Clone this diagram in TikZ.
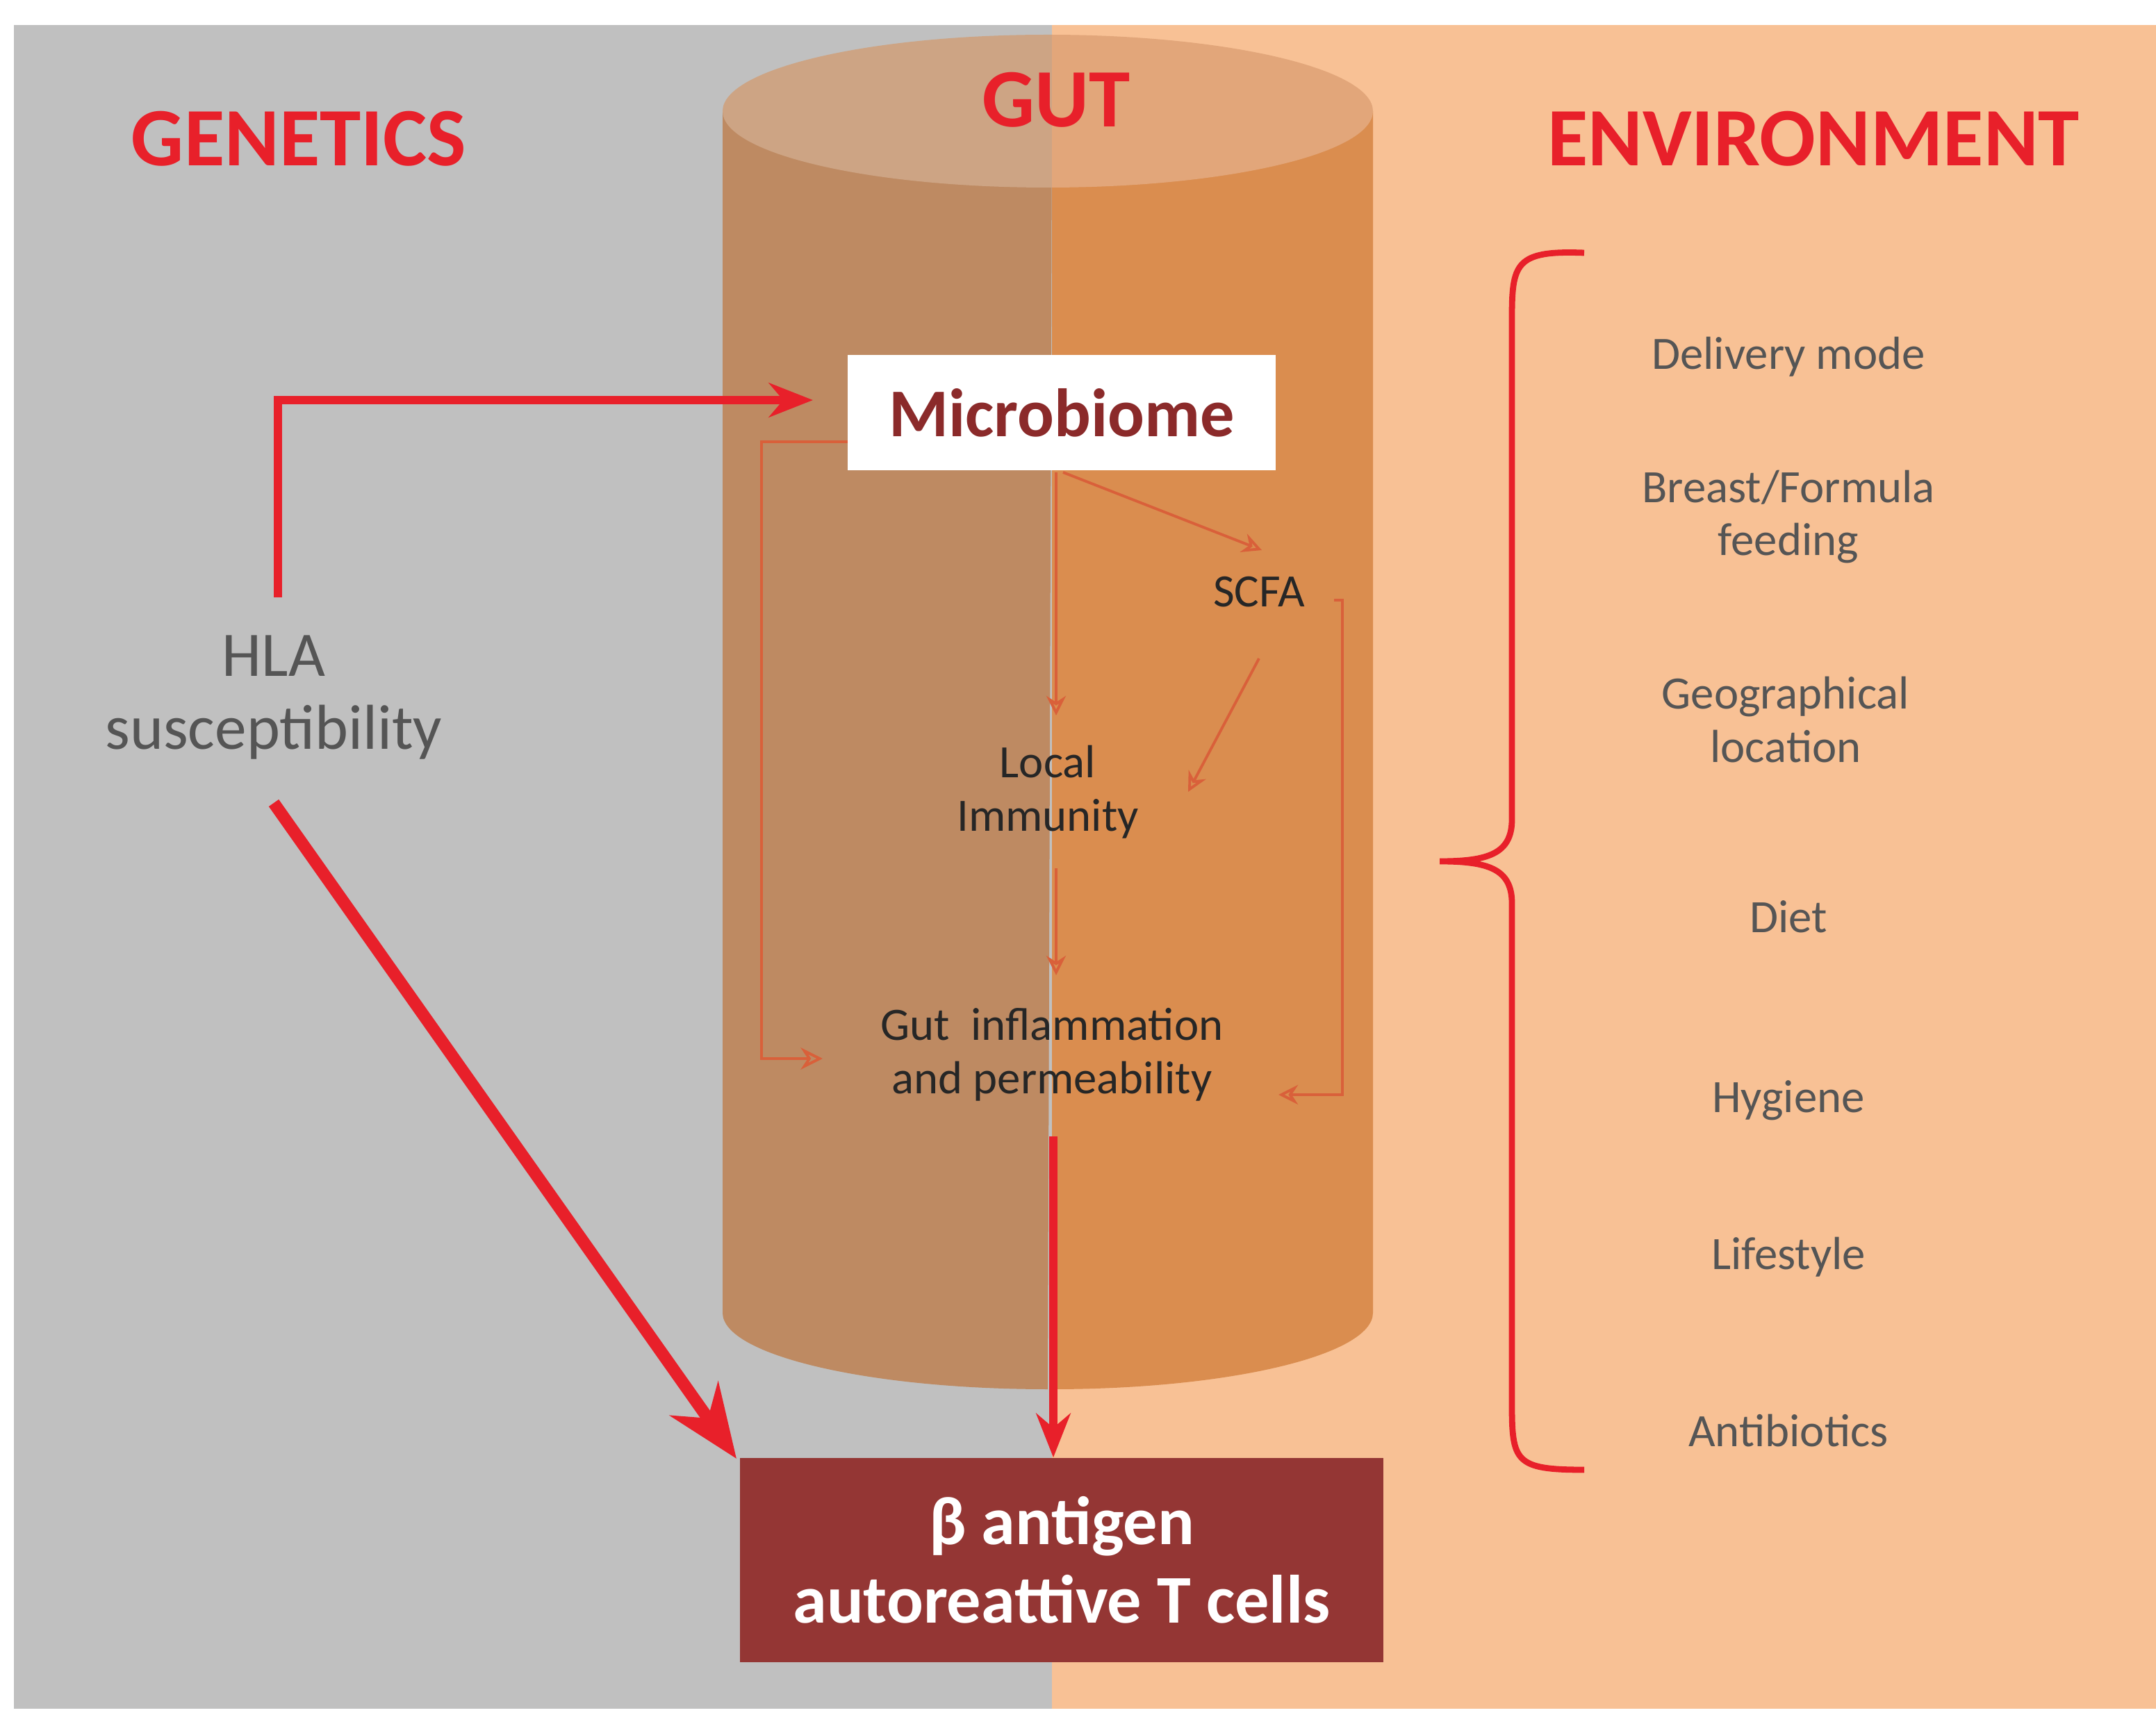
\documentclass[tikz,border=0pt]{standalone}
\usepackage{fontspec}
\setmainfont{Carlito}
\usetikzlibrary{arrows.meta,decorations.pathreplacing}
\definecolor{bggray}{HTML}{C0C0C0}
\definecolor{bgor}{HTML}{F8C195}
\definecolor{cylL}{HTML}{BE8A62}
\definecolor{cylR}{HTML}{DA8D4F}
\definecolor{topL}{HTML}{CDA484}
\definecolor{topR}{HTML}{E2A67A}
\definecolor{tred}{HTML}{E8202A}
\definecolor{thin}{HTML}{D9603A}
\definecolor{dred}{HTML}{943634}
\definecolor{mtxt}{HTML}{8B2A2A}
\definecolor{gtxt}{HTML}{555555}
\tikzset{
 fs/.style={font=\fontsize{#1}{#1}\linespread{1.15}\selectfont},
 fsb/.style={font=\fontsize{#1}{#1}\linespread{1.15}\selectfont\bfseries},
 env/.style={fs=19, text=gtxt, align=center},
 gut/.style={fs=19, text=black!85, align=center},
 thick red/.style={draw=tred, line width=3.2pt},
 thinln/.style={draw=thin, line width=1.1pt},
}
\begin{document}
\begin{tikzpicture}[x=0.02cm,y=-0.02cm]
\useasboundingbox (0,0) rectangle (1551.5,1234.5);
\fill[white] (0,0) rectangle (1551.5,1234.5);
\fill[bggray] (10,18) rectangle (757,1230);
\fill[bgor] (757,18) rectangle (1555,1230);
% cylinder
\fill[cylL] (520,80) -- (520,945) arc[start angle=180,end angle=90,x radius=234,y radius=55] -- (757,80) -- cycle;
\fill[cylR] (757,80) -- (757,1000) arc[start angle=90,end angle=0,x radius=231,y radius=55] -- (988,80) -- cycle;
\begin{scope}
\clip (0,0) rectangle (757,200);
\fill[topL] (754,80) ellipse[x radius=234,y radius=55];
\end{scope}
\begin{scope}
\clip (757,0) rectangle (1551,200);
\fill[topR] (754,80) ellipse[x radius=234,y radius=55];
\end{scope}
% titles
\node[fsb=34, text=tred] (gen) at (215,100) {GENETICS};
\node[fsb=34, text=tred] (gutt) at (760,72) {GUT};
\node[fsb=34, text=tred] (envt) at (1305,100) {ENVIRONMENT};
% nodes
\node[fill=white, fsb=28, text=mtxt, minimum width=308*0.02cm, minimum height=83*0.02cm] (mic) at (764,297) {Microbiome};
\node[fs=26, text=gtxt, align=center] (hla) at (197,502) {HLA\\susceptibility};
\node[gut] (scfa) at (906,426) {SCFA};
\node[gut] (loc) at (754,570) {Local\\Immunity};
\node[gut] (gi) at (757,759) {Gut\ \ inflammation\\and permeability};
\node[fill=dred, text=white, fsb=28, align=center, minimum width=463*0.02cm, minimum height=147*0.02cm] (tc) at (764,1123) {β antigen\\autoreattive T cells};
% environment
\node[env] (e1) at (1287,257) {Delivery mode};
\node[env] (e2) at (1287,372) {Breast/Formula\\feeding};
\node[env] (e3) at (1285,518) {Geographical\\location};
\node[env] (e4) at (1287,660) {Diet};
\node[env] (e5) at (1287,792) {Hygiene};
\node[env] (e6) at (1287,905) {Lifestyle};
\node[env] (e7) at (1287,1030) {Antibiotics};
% brace
\draw[tred, line width=2.5pt] (1140,182) .. controls (1090,180) and (1088,190) .. (1088,230) -- (1088,590) .. controls (1088,615) and (1070,620) .. (1036,620) .. controls (1070,620) and (1088,625) .. (1088,650) -- (1088,1010) .. controls (1088,1052) and (1090,1058) .. (1140,1058);
% thick arrows
\coordinate (hlat) at (200,430);
\coordinate (micl) at (585,288);
\draw[thick red, -{Stealth[length=18pt,width=14pt]}] (hlat) -- (200,288) -- (micl);
\coordinate (hlab) at (197,578);
\coordinate (tcl) at (530,1050);
\draw[tred, line width=5pt, -{Stealth[length=30pt,width=24pt]}] (hlab) -- (tcl);
\coordinate (gib) at (758,818);
\draw[thick red, -{Stealth[length=18pt,width=14pt]}] (gib) -- (gib |- tc.north);
% thin arrows
\coordinate (m1) at (610,318);
\coordinate (g1) at (592,762);
\draw[thinln, -{Stealth[length=9pt,width=9pt,open]}] (m1) -- (548,318) -- (548,762) -- (g1);
\draw[thinln, -{Stealth[length=8pt,width=8pt,open]}] (760,340) -- (760,515);
\draw[thinln, -{Stealth[length=8pt,width=8pt,open]}] (765,340) -- (908,396);
\draw[thinln, -{Stealth[length=8pt,width=8pt,open]}] (906,474) -- (855,570);
\draw[thinln, -{Stealth[length=8pt,width=8pt,open]}] (760,625) -- (760,702);
\draw[thinln, -{Stealth[length=8pt,width=8pt,open]}] (960,432) -- (966,432) -- (966,788) -- (920,788);
\end{tikzpicture}
\end{document}
